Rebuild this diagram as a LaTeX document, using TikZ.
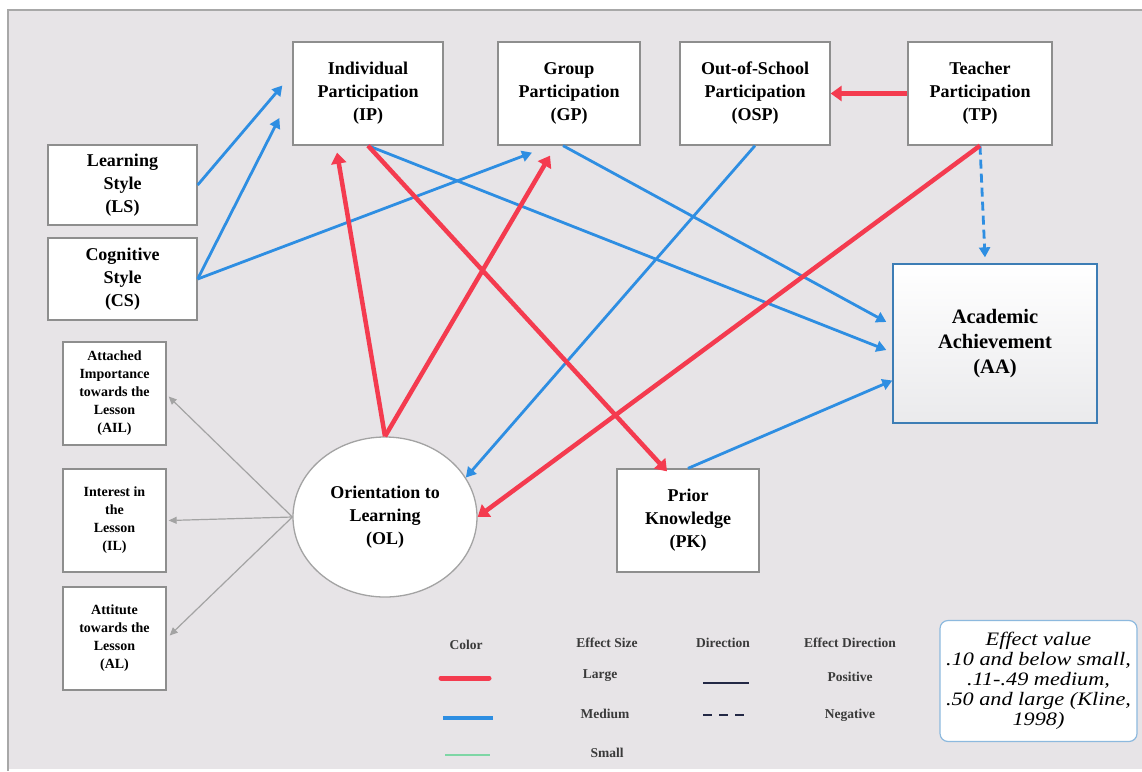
\documentclass[tikz,border=0pt]{standalone}
\usepackage{fontspec}
\setmainfont{Liberation Serif}
\newfontfamily\evfont[FakeStretch=1.17]{Liberation Serif}
\usetikzlibrary{arrows.meta,shapes.geometric,calc}
\definecolor{bgc}{HTML}{E7E4E7}
\definecolor{framec}{HTML}{A8A8A8}
\definecolor{boxc}{HTML}{8E8E8E}
\definecolor{redc}{HTML}{F43B4F}
\definecolor{bluec}{HTML}{2E8EE2}
\definecolor{grayc}{HTML}{A3A3A3}
\definecolor{greenc}{HTML}{7ED6A5}
\definecolor{navyc}{HTML}{232845}
\definecolor{aaborder}{HTML}{3D7DB5}
\definecolor{evborder}{HTML}{8DB9DE}
\definecolor{legtext}{HTML}{3A3A3A}
\begin{document}
\begin{tikzpicture}[x=1pt,y=-1pt,
  box/.style={draw=boxc,line width=1.3pt,fill=white,align=center,
    font=\bfseries\fontsize{18}{23}\selectfont,inner sep=0pt},
  smallbox/.style={box,font=\bfseries\fontsize{14}{18}\selectfont,minimum width=103pt},
  large/.style={draw=redc,line width=4.5pt,-{Triangle[length=11pt,width=15pt]}},
  medium/.style={draw=bluec,line width=2.8pt,-{Triangle[length=10pt,width=11pt]}},
  thin/.style={draw=grayc,line width=1.2pt,-{Triangle[length=8pt,width=7pt]}},
  legend/.style={font=\bfseries\fontsize{13.5}{16}\selectfont,text=legtext,inner sep=0pt}
]
\useasboundingbox (0,0) rectangle (1142,771);
\fill[white] (0,0) rectangle (1142,771);
\fill[bgc] (8,10) rectangle (1142,769);
\draw[framec,line width=2.5pt] (8,771) -- (8,10) -- (1142,10);

% nodes
\node[box,minimum width=150pt,minimum height=103pt] (IP) at (368,93.5) {Individual\\Participation\\(IP)};
\node[box,minimum width=142pt,minimum height=103pt] (GP) at (569,93.5) {Group\\Participation\\(GP)};
\node[box,minimum width=150pt,minimum height=103pt] (OSP) at (755,93.5) {Out-of-School\\Participation\\(OSP)};
\node[box,minimum width=144pt,minimum height=103pt] (TP) at (980,93.5) {Teacher\\Participation\\(TP)};
\node[box,minimum width=149pt,minimum height=80pt] (LS) at (122.5,185) {Learning\\Style\\(LS)};
\node[box,minimum width=149pt,minimum height=82pt] (CS) at (122.5,279) {Cognitive\\Style\\(CS)};
\node[smallbox,minimum height=103pt] (AIL) at (114.5,393.5) {Attached\\Importance\\towards the\\Lesson\\(AIL)};
\node[smallbox,minimum height=103pt] (IL) at (114.5,520.5) {Interest in\\the\\Lesson\\(IL)};
\node[smallbox,minimum height=103pt] (AL) at (114.5,638.5) {Attitute\\towards the\\Lesson\\(AL)};
\node[box,ellipse,draw=grayc,minimum width=184pt,minimum height=160pt] (OL) at (385,517) {Orientation to\\Learning\\(OL)};
\node[box,minimum width=142pt,minimum height=103pt] (PK) at (688,520.5) {Prior\\Knowledge\\(PK)};
\node[box,draw=aaborder,top color=white,bottom color={rgb,255:red,234;green,234;blue,236},
  minimum width=204pt,minimum height=159pt,font=\bfseries\fontsize{20.5}{25}\selectfont] (AA) at (995,343.5) {Academic\\Achievement\\(AA)};
\node[draw=evborder,line width=1.2pt,fill=white,rounded corners=8pt,align=center,inner sep=0pt,
  minimum width=197pt,minimum height=121pt,font=\evfont\itshape\fontsize{19}{20}\selectfont] (EV) at (1038.5,681)
  {Effect value\\.10 and below small,\\.11-.49 medium,\\.50 and large (Kline,\\1998)};

% medium (blue) connectors
\draw[medium] (LS.east) -- ([xshift=-10pt,yshift=8pt]IP.west);
\draw[medium] (CS.east) -- ([xshift=-13pt,yshift=-24.5pt]IP.west);
\draw[medium] (CS.east) -- ([xshift=-37pt,yshift=-7pt]GP.south);
\draw[medium] (IP.south) -- ([xshift=-6pt,yshift=-6.5pt]AA.west);
\draw[medium] ([xshift=-6pt]GP.south) -- ([xshift=-6pt,yshift=21.5pt]AA.west);
\draw[medium] (OSP.south) -- (OL.26);
\draw[medium] (PK.north) -- ([yshift=-37pt]AA.west);
\draw[medium,dash pattern=on 9pt off 5pt] (TP.south) -- ([xshift=-10pt,yshift=6pt]AA.north);

% large (red) connectors
\draw[large] (TP.west) -- (OSP.east);
\draw[large] (OL.north) -- ([xshift=-31pt,yshift=-7pt]IP.south);
\draw[large] (OL.north) -- ([xshift=-19pt,yshift=-10pt]GP.south);
\draw[large] (IP.south) -- ([xshift=-21pt,yshift=-3pt]PK.north);
\draw[large] (TP.south) -- (OL.east);

% thin (gray) connectors
\draw[thin] (OL.west) -- ([xshift=2pt,yshift=-3pt]AIL.east);
\draw[thin] (OL.west) -- ([xshift=2pt]IL.east);
\draw[thin] (OL.west) -- ([xshift=3pt,yshift=3pt]AL.east);

% legend
\node[legend] (lc) at (466,645) {Color};
\node[legend] (les) at (607,643) {Effect Size};
\node[legend] (ldir) at (723,643) {Direction};
\node[legend] (led) at (850,643) {Effect Direction};
\node[legend] (llarge) at (600,676) {Large};
\node[legend] (lmed) at (605,714) {Medium};
\node[legend] (lsmall) at (607,753) {Small};
\node[legend] (lpos) at (850,677) {Positive};
\node[legend] (lneg) at (850,715) {Negative};
\draw[redc,line width=5pt,line cap=round] (441,678) -- (489,678);
\draw[bluec,line width=3.5pt] (443,718) -- (493,718);
\draw[greenc,line width=1.5pt] (445,755) -- (490,755);
\draw[navyc,line width=1.5pt] (703,683) -- (749,683);
\draw[navyc,line width=1.5pt,dash pattern=on 9pt off 7pt] (703,715) -- (749,715);
\end{tikzpicture}
\end{document}
